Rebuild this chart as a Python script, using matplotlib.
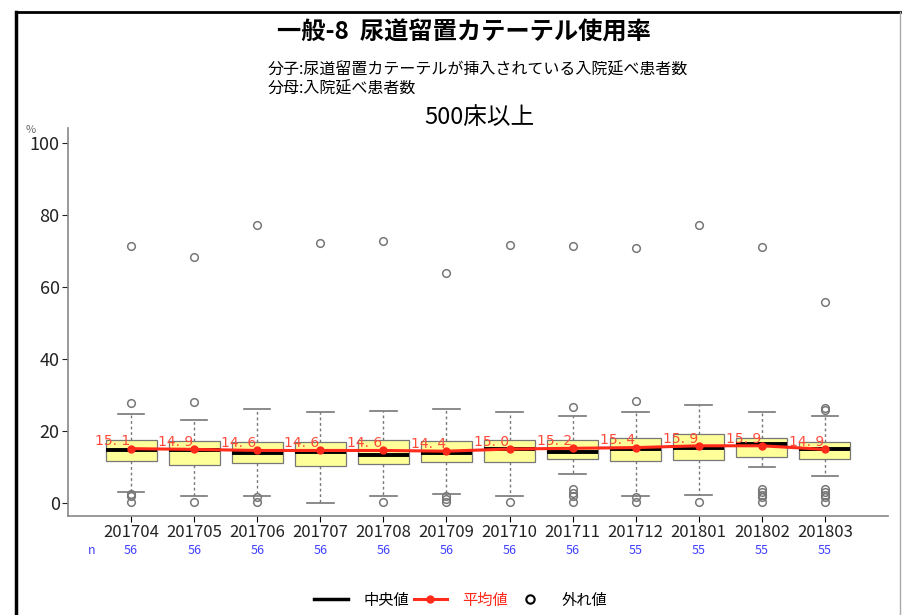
import matplotlib
matplotlib.use("Agg")
import matplotlib.pyplot as plt
from matplotlib.lines import Line2D

plt.rcParams['font.family'] = ['Noto Sans CJK JP', 'DejaVu Sans']

# data
months = ['201704', '201705', '201706', '201707', '201708', '201709',
          '201710', '201711', '201712', '201801', '201802', '201803']
counts = [56, 56, 56, 56, 56, 56, 56, 56, 55, 55, 55, 55]
means = [15.1, 14.9, 14.6, 14.6, 14.6, 14.4, 15.0, 15.2, 15.4, 15.9, 15.9, 14.9]
medians = [14.6, 14.6, 13.9, 14.3, 13.3, 13.8, 14.9, 14.3, 14.9, 15.4, 16.4, 15.1]
q1 = [11.7, 10.6, 11.1, 10.4, 10.9, 11.4, 11.3, 12.1, 11.7, 11.9, 12.8, 12.1]
q3 = [17.5, 17.3, 17.0, 16.9, 17.5, 17.3, 17.5, 17.5, 18.1, 19.3, 18.0, 16.9]
whis_lo = [3.2, 2.0, 2.0, 0.0, 2.0, 2.5, 2.0, 8.0, 2.0, 2.2, 10.1, 7.6]
whis_hi = [24.8, 23.0, 26.1, 25.4, 25.6, 26.1, 25.4, 24.3, 25.4, 27.1, 25.2, 24.3]
outliers = [
    [71.4, 27.9, 2.5, 2.0, 0.3],
    [68.3, 28.1, 0.3],
    [77.2, 1.6, 0.3],
    [72.2],
    [72.8, 0.3],
    [63.9, 2.0, 1.0, 0.2],
    [71.7, 0.3],
    [71.4, 26.8, 3.9, 2.7, 2.0, 0.3],
    [70.8, 28.4, 1.6, 0.3],
    [77.2, 0.3],
    [71.1, 3.9, 3.0, 2.3, 1.6, 0.3],
    [55.8, 26.4, 25.9, 3.9, 3.0, 2.3, 1.6, 0.3],
]

stats = []
for i in range(len(months)):
    stats.append({'med': medians[i], 'q1': q1[i], 'q3': q3[i],
                  'whislo': whis_lo[i], 'whishi': whis_hi[i],
                  'fliers': outliers[i], 'label': months[i]})

fig = plt.figure(figsize=(9.02, 6.15), dpi=100)
ax = fig.add_axes([0.0754, 0.161, 0.909, 0.631])

pos = list(range(1, len(months) + 1))
ax.bxp(stats, positions=pos, widths=0.81, patch_artist=True,
       boxprops=dict(facecolor='#ffff99', edgecolor='#777777', linewidth=0.9),
       medianprops=dict(color='black', linewidth=2.8),
       whiskerprops=dict(color='#777777', linestyle=(0, (2, 2)), linewidth=1),
       capprops=dict(color='#777777', linewidth=1.2), capwidths=0.42,
       flierprops=dict(marker='o', markerfacecolor='none', markeredgecolor='#777777',
                       markersize=5.5, markeredgewidth=1.1))

ax.plot(pos, means, color='#ff2a1a', linewidth=2.2, marker='o', markersize=5, zorder=5)
for p, m in zip(pos, means):
    ax.text(p - 0.29, m + 2.0, f'{m:.1f}'.replace('.', '. '), color='#ff4a3a',
            fontsize=10, ha='center', va='center', family='DejaVu Sans', zorder=6)

ax.set_xlim(0, 13)
ax.set_ylim(-3.6, 104.2)
ax.set_yticks([0, 20, 40, 60, 80, 100])
ax.set_xticks(pos)
ax.set_xticklabels(months, fontsize=12, color='#222222')
ax.tick_params(axis='y', labelsize=13, colors='#222222', length=4, width=0.8, pad=2)
ax.tick_params(axis='x', length=4, width=0.8, pad=2)
for lab in ax.get_yticklines() + ax.get_xticklines():
    lab.set_color('#888888')
for s in ['top', 'right']:
    ax.spines[s].set_visible(False)
for s in ['left', 'bottom']:
    ax.spines[s].set_color('#888888')
    ax.spines[s].set_linewidth(1.2)

# n row
fig.text(92 / 902, 1 - 551 / 615, 'n', color='#4040ff', fontsize=9, ha='center', va='center')
for p, c in zip(pos, counts):
    ax.text(p, -0.09, str(c), color='#4040ff', fontsize=9, ha='center', va='center',
            transform=ax.get_xaxis_transform())

fig.text(31 / 902, 1 - 130 / 615, '%', color='#666666', fontsize=8, ha='center', va='center')

# titles
fig.text(464 / 902, 1 - 33 / 615, '一般-8  尿道留置カテーテル使用率', fontsize=17.5,
         fontweight='bold', ha='center', va='center')
fig.text(268 / 902, 1 - 70 / 615, '分子:尿道留置カテーテルが挿入されている入院延べ患者数',
         fontsize=11.5, ha='left', va='center')
fig.text(268 / 902, 1 - 89 / 615, '分母:入院延べ患者数', fontsize=11.5, ha='left', va='center')
fig.text(479 / 902, 1 - 118 / 615, '500床以上', fontsize=17, ha='center', va='center')

# legend
handles = [Line2D([], [], color='black', linewidth=2.5),
           Line2D([], [], color='#ff2a1a', linewidth=2.2, marker='o', markersize=5),
           Line2D([], [], linestyle='none', marker='o', markerfacecolor='none',
                  markeredgecolor='black', markersize=6, markeredgewidth=1.5)]
leg = fig.legend(handles, ['中央値', '平均値', '外れ値'], loc='center',
                 bbox_to_anchor=(461 / 902, 1 - 600 / 615), ncol=3, frameon=False,
                 fontsize=11, handlelength=2.2, columnspacing=0.3, handletextpad=1.0)
leg.get_texts()[1].set_color('#ff2a1a')

# frame of the screenshot
fig.add_artist(Line2D([16 / 902, 16 / 902], [0, 1 - 12 / 615], color='black', linewidth=2.5,
                      transform=fig.transFigure))
fig.add_artist(Line2D([16 / 902, 900 / 902], [1 - 12 / 615, 1 - 12 / 615], color='black',
                      linewidth=2, transform=fig.transFigure))
fig.add_artist(Line2D([900 / 902, 900 / 902], [0, 1 - 12 / 615], color='#aaaaaa', linewidth=1,
                      transform=fig.transFigure))

fig.savefig('out.png', dpi=100)
